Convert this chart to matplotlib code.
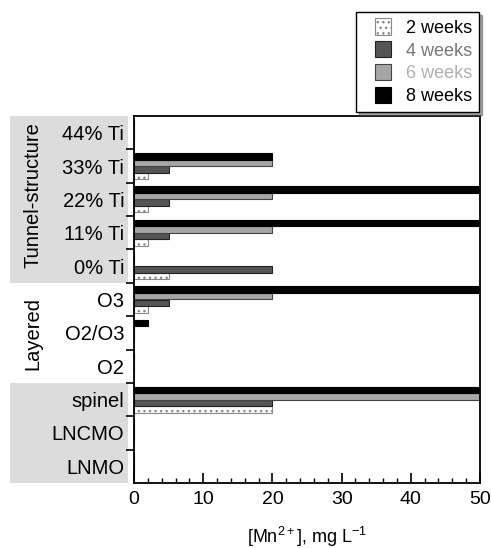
import numpy as np
import matplotlib.pyplot as plt
from matplotlib.patches import Patch, Rectangle
from matplotlib.legend_handler import HandlerPatch

plt.rcParams['font.family'] = ['Liberation Sans', 'DejaVu Sans']
plt.rcParams['mathtext.fontset'] = 'custom'
plt.rcParams['mathtext.rm'] = 'Liberation Sans'
plt.rcParams['mathtext.it'] = 'Liberation Sans'

# Samples, bottom to top
samples = ['LNMO', 'LNCMO', 'spinel', 'O2', 'O2/O3', 'O3',
           '0% Ti', '11% Ti', '22% Ti', '33% Ti', '44% Ti']

# Dissolved Mn2+ (mg/L) after each storage time
weeks_2 = [0, 0, 20, 0, 0, 2, 5, 2, 2, 2, 0]
weeks_4 = [0, 0, 20, 0, 0, 5, 20, 5, 5, 5, 0]
weeks_6 = [0, 0, 50, 0, 0, 20, 0, 20, 20, 20, 0]
weeks_8 = [0, 0, 50, 0, 2, 50, 0, 50, 50, 20, 0]

series_labels = ['2 weeks', '4 weeks', '6 weeks', '8 weeks']
x_ticks = [0, 10, 20, 30, 40, 50]

W, H = 492, 548
fig = plt.figure(figsize=(W / 100, H / 100), dpi=100)
ax = fig.add_axes([134 / W, 1 - 483 / H, 346 / W, 367 / H])

# grey panels behind the group labels
for top, bot in [(116, 283), (383, 483)]:
    fig.patches.append(Rectangle((10 / W, 1 - bot / H), 118 / W, (bot - top) / H,
                                 transform=fig.transFigure, facecolor='#dcdcdc',
                                 edgecolor='none', zorder=-5))

y = np.arange(len(samples))
h = 0.195
series = [weeks_2, weeks_4, weeks_6, weeks_8]
styles = [dict(color='white', edgecolor='#888888', hatch='...', linewidth=0.8),
          dict(color='#555555', edgecolor='#222222', linewidth=0.8),
          dict(color='#a6a6a6', edgecolor='#444444', linewidth=0.8),
          dict(color='black', edgecolor='black', linewidth=0.8)]
for i, (vals, st) in enumerate(zip(series, styles)):
    ax.barh(y + (i - 1.5) * h, vals, height=h, **st)

ax.set_xlim(0, 50)
ax.set_ylim(-0.5, len(samples) - 0.5)
ax.set_xticks(x_ticks)
ax.set_xticks(np.arange(0, 51, 2), minor=True)
ax.tick_params(axis='x', which='major', direction='in', length=7, width=1.2,
               labelsize=14, pad=6, top=False)
ax.tick_params(axis='x', which='minor', direction='in', length=3.5, width=1.0, top=False)
ax.set_yticks(y)
ax.set_yticklabels(samples)
ax.set_yticks(np.arange(0.5, len(samples) - 1, 1), minor=True)
ax.tick_params(axis='y', which='major', length=0, labelsize=14.5, pad=7)
ax.tick_params(axis='y', which='minor', direction='out', length=6, width=1.2)
for s in ax.spines.values():
    s.set_linewidth(1.3)

ax.set_xlabel('[Mn$^{2+}$], mg L$^{-1}$', fontsize=13, labelpad=12)

fig.text(33 / W, 1 - 195 / H, 'Tunnel-structure', rotation=90, fontsize=14.5,
         ha='center', va='center')
fig.text(33 / W, 1 - 334 / H, 'Layered', rotation=90, fontsize=14.5,
         ha='center', va='center')


def square_handle(legend, orig_handle, xdescent, ydescent, width, height, fontsize):
    # square swatch pushed to the right end of the handle box
    s = 0.9 * fontsize
    return Rectangle((-xdescent + width - s, -ydescent + (height - s) / 2), s, s)


handles = [Patch(facecolor=st['color'], edgecolor=st['edgecolor'],
                 hatch=st.get('hatch'), linewidth=0.8) for st in styles]
leg = fig.legend(handles, series_labels, loc='upper right',
                 bbox_to_anchor=(479 / W, 1 - 12 / H), borderaxespad=0, fontsize=13,
                 frameon=True, fancybox=False, shadow={'ox': 2, 'oy': -2, 'color': '0.3'},
                 edgecolor='black', handlelength=1.6, handleheight=1.0,
                 handletextpad=0.85, labelspacing=0.26, borderpad=0.35,
                 handler_map={Patch: HandlerPatch(patch_func=square_handle)})
leg.get_frame().set_linewidth(1.0)
for t, c in zip(leg.get_texts(), ['black', '#777777', '#b0b0b0', 'black']):
    t.set_color(c)

fig.savefig('out.png', dpi=100)
